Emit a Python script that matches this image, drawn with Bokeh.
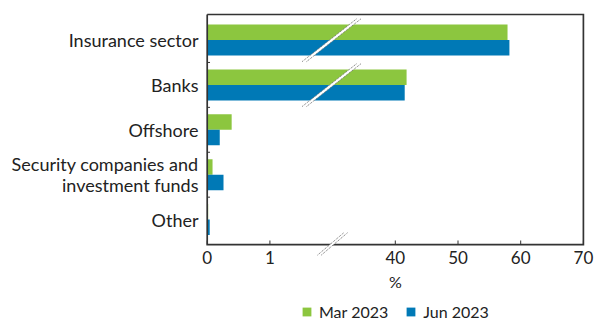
from bokeh.plotting import figure
from bokeh.models import Range1d, FixedTicker, Legend, LegendItem, ColumnDataSource
from bokeh.core.properties import value
from bokeh.embed import file_html
from bokeh.resources import INLINE

# ---- data ----
categories = ["Insurance sector", "Banks", "Offshore",
              "Security companies and\ninvestment funds", "Other"]
mar_2023 = [57.9, 41.8, 0.39, 0.085, 0.015]
jun_2023 = [58.2, 41.5, 0.20, 0.26, 0.04]
series_names = ["Mar 2023", "Jun 2023"]
x_tick_values = [0, 1, 40, 50, 60, 70]
x_axis_label = "%"

GREEN = "#8cc63f"
BLUE = "#0079b6"
DARK = "#333333"
TEXT = "#222222"
BREAK = "#6e6e6e"
FONT = "Lato"


def brk(x):
    """Broken-axis transform: 0..2 stretched x10, 30..70 shifted by -10."""
    return 10.0 * x if x <= 2 else x - 10.0


n = len(categories)
centers = list(range(n))
half = 0.1725
bar_h = 0.345
U_MAX = brk(x_tick_values[-1])
Y_TOP = -0.568      # top edge of the plot box
Y_AXIS = 4.555      # bottom edge of the plot box (x axis line)

src_mar = ColumnDataSource(dict(y=[c - half for c in centers],
                                right=[brk(v) for v in mar_2023]))
src_jun = ColumnDataSource(dict(y=[c + half for c in centers],
                                right=[brk(v) for v in jun_2023]))

p = figure(width=595, height=320, output_backend="svg", toolbar_location=None,
           x_range=Range1d(-1.07, 61.93), y_range=Range1d(6.247, -0.635),
           x_axis_location=None,
           min_border_left=200, min_border_right=0, min_border_top=11,
           min_border_bottom=0)
p.background_fill_color = "white"
p.border_fill_color = "white"
p.outline_line_color = None
p.grid.visible = False

r_mar = p.hbar(y="y", right="right", left=0, height=bar_h, source=src_mar,
               fill_color=GREEN, line_color=None)
r_jun = p.hbar(y="y", right="right", left=0, height=bar_h, source=src_jun,
               fill_color=BLUE, line_color=None)

# plot box
p.line([0, U_MAX, U_MAX, 0, 0], [Y_TOP, Y_TOP, Y_AXIS, Y_AXIS, Y_TOP],
       line_color=DARK, line_width=1.7, line_join="miter")

# category separator ticks (inside, on the left edge)
sep = [c + 0.5 for c in centers[:-1]]
p.segment(x0=[0] * len(sep), y0=sep, x1=[0.45] * len(sep), y1=sep,
          line_color=DARK, line_width=1)

# x axis ticks (inside) and labels
tick_u = [brk(v) for v in x_tick_values]
p.segment(x0=tick_u, y0=[Y_AXIS] * len(tick_u), x1=tick_u,
          y1=[Y_AXIS - 0.09] * len(tick_u), line_color=DARK, line_width=1)
p.text(x=tick_u, y=[4.70] * len(tick_u), text=[str(v) for v in x_tick_values],
       text_align="center", text_baseline="top", text_font=value(FONT),
       text_font_size="17px", text_color=TEXT)
p.text(x=[U_MAX / 2], y=[5.385], text=[x_axis_label], text_align="center",
       text_baseline="middle", text_font=value(FONT), text_font_size="16px",
       text_color=TEXT)

# break marks across the two long bars
for c in [0, 1]:
    u0, u1, dy, du = 15.15, 23.9, 0.48, 0.7
    p.patch([u0, u1, u1 + du, u0 + du], [c + dy, c - dy, c - dy, c + dy],
            fill_color="white", line_color=None)
    p.segment(x0=[u0, u0 + du], y0=[c + dy, c + dy], x1=[u1, u1 + du], y1=[c - dy, c - dy],
              line_color=BREAK, line_width=1, line_dash="1 1")

# break mark on the x axis
bu0, bu1, bdu = 17.6, 21.8, 0.6
by0, by1 = 4.79, 4.29
p.patch([bu0, bu1, bu1 + bdu, bu0 + bdu], [by0, by1, by1, by0],
        fill_color="white", line_color=None)
p.segment(x0=[bu0, bu0 + bdu], y0=[by0, by0], x1=[bu1, bu1 + bdu], y1=[by1, by1],
          line_color=BREAK, line_width=1, line_dash="1 1")

# y axis with category labels
ya = p.yaxis[0]
ticks = []
labels = {}
for c, name in zip(centers, categories):
    lines = name.split("\n")
    if len(lines) == 1:
        ticks.append(float(c))
        labels[float(c)] = name
    else:
        for k, ln in enumerate(lines):
            t = round(c - 0.235 + 0.47 * k / (len(lines) - 1), 3)
            ticks.append(t)
            labels[t] = ln
ya.ticker = FixedTicker(ticks=ticks, minor_ticks=[])
ya.major_label_overrides = labels
ya.major_tick_in = 0
ya.major_tick_out = 0
ya.minor_tick_in = 0
ya.minor_tick_out = 0
ya.axis_line_color = None
ya.major_label_standoff = 2
ya.major_label_text_font = FONT
ya.major_label_text_font_size = "18px"
ya.major_label_text_color = TEXT

legend = Legend(items=[LegendItem(label=series_names[0], renderers=[r_mar]),
                       LegendItem(label=series_names[1], renderers=[r_jun])],
                orientation="horizontal", location=(101, -1),
                glyph_width=11, glyph_height=11, label_standoff=7, spacing=17,
                padding=0, margin=0, border_line_color=None,
                background_fill_alpha=0, label_text_font=FONT,
                label_text_font_size="16px", label_text_color=TEXT,
                label_height=11)
p.add_layout(legend)

open("out.html", "w").write(file_html(p, INLINE))
